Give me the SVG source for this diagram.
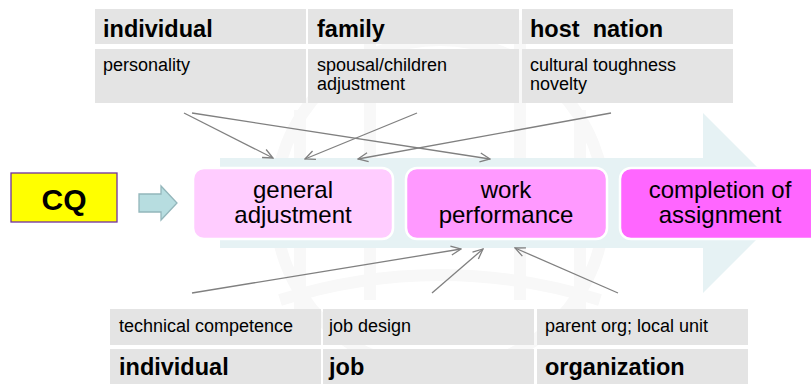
<svg xmlns="http://www.w3.org/2000/svg" width="811" height="384" viewBox="0 0 811 384">
<style>
.cell{fill:#e4e4e4}
.hd{font-family:"Liberation Sans",Arial,sans-serif;font-weight:bold;font-size:23.5px;fill:#000;white-space:pre}
.sm{font-family:"Liberation Sans",Arial,sans-serif;font-size:18px;fill:#000}
.bx{font-family:"Liberation Sans",Arial,sans-serif;font-size:24px;fill:#000;text-anchor:middle}
.stage{stroke:#fff;stroke-width:2.5}
.conn{stroke:#808080;stroke-width:1.3;fill:none;marker-end:url(#ah)}
.wm{fill:none;stroke:#f8f8f8;stroke-width:12}
</style>
<defs>
<marker id="ah" viewBox="0 0 12 12" refX="11" refY="6" markerWidth="12" markerHeight="12" markerUnits="userSpaceOnUse" orient="auto">
<path d="M1,1.5 L11,6 L1,10.5" fill="none" stroke="#808080" stroke-width="1.3"/>
</marker>
</defs>
<rect width="811" height="384" fill="#fff"/>
<g id="watermark">
<circle cx="440" cy="205" r="165" class="wm"/>
<path d="M280,300 Q440,250 600,300" class="wm"/>
<path d="M300,110 L300,320 M370,20 L370,300 M520,20 L520,300 M580,110 L580,320" class="wm"/>
</g>
<g id="flow-arrow">
<polygon points="220,158 703,158 703,113 793,203 703,293 703,248 220,248" fill="#e6f2f4"/>
</g>
<g id="top-table">
<rect class="cell" x="95" y="9" width="211" height="35"/>
<rect class="cell" x="308" y="9" width="211" height="35"/>
<rect class="cell" x="522" y="9" width="211" height="35"/>
<rect class="cell" x="95" y="49" width="211" height="54"/>
<rect class="cell" x="308" y="49" width="211" height="54"/>
<rect class="cell" x="522" y="49" width="211" height="54"/>
<text class="hd" x="103" y="37">individual</text>
<text class="hd" x="317" y="37">family</text>
<text class="hd" x="530" y="37" xml:space="preserve">host  nation</text>
<text class="sm" x="103" y="71">personality</text>
<text class="sm" x="317" y="71">spousal/children</text>
<text class="sm" x="317" y="90">adjustment</text>
<text class="sm" x="530" y="71">cultural toughness</text>
<text class="sm" x="530" y="90">novelty</text>
</g>
<g id="cq">
<rect x="11" y="173" width="106" height="49" fill="#ffff00" stroke="#7030a0" stroke-width="1.3"/>
<text x="64" y="210" font-family="Liberation Sans, Arial, sans-serif" font-weight="bold" font-size="30" text-anchor="middle">CQ</text>
</g>
<g id="cq-arrow">
<polygon points="139,194 161,194 161,186 177,203 161,220 161,212 139,212" fill="#b7dde0" stroke="#93b6bb" stroke-width="1.3"/>
</g>
<g id="general-adjustment">
<rect class="stage" x="193" y="168" width="200" height="71" rx="11" fill="#ffccff"/>
<text class="bx" x="293" y="198">general</text>
<text class="bx" x="293" y="223">adjustment</text>
</g>
<g id="work-performance">
<rect class="stage" x="406" y="168" width="201" height="71" rx="11" fill="#ff99ff"/>
<text class="bx" x="506" y="198">work</text>
<text class="bx" x="506" y="223">performance</text>
</g>
<g id="completion">
<rect class="stage" x="620" y="168" width="205" height="71" rx="11" fill="#ff66ff"/>
<text class="bx" x="720" y="198">completion of</text>
<text class="bx" x="720" y="223">assignment</text>
</g>
<g id="bottom-table">
<rect class="cell" x="110" y="309" width="211" height="36"/>
<rect class="cell" x="323" y="309" width="211" height="36"/>
<rect class="cell" x="537" y="309" width="211" height="36"/>
<rect class="cell" x="110" y="349" width="211" height="35"/>
<rect class="cell" x="323" y="349" width="211" height="35"/>
<rect class="cell" x="537" y="349" width="211" height="35"/>
<text class="sm" x="119" y="332">technical competence</text>
<text class="sm" x="329" y="332">job design</text>
<text class="sm" x="545" y="332">parent org; local unit</text>
<text class="hd" x="119" y="375">individual</text>
<text class="hd" x="329" y="375">job</text>
<text class="hd" x="545" y="375">organization</text>
</g>
<g id="connectors">
<line class="conn" x1="184" y1="113" x2="273" y2="158"/>
<line class="conn" x1="192" y1="113" x2="490" y2="159"/>
<line class="conn" x1="417" y1="113" x2="305" y2="159"/>
<line class="conn" x1="611" y1="113" x2="358" y2="159"/>
<line class="conn" x1="192" y1="293" x2="461" y2="249"/>
<line class="conn" x1="432" y1="293" x2="483" y2="249"/>
<line class="conn" x1="618" y1="293" x2="515" y2="248"/>
</g>
</svg>
